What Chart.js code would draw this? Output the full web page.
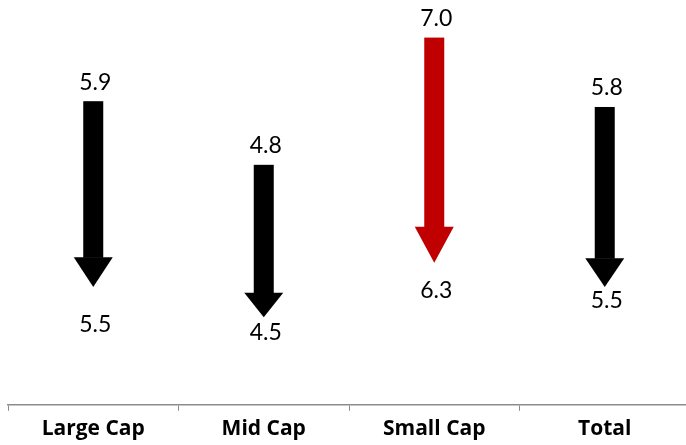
<!DOCTYPE html>
<html>
<head>
<meta charset="utf-8">
<script src="https://cdn.jsdelivr.net/npm/chart.js@4/dist/chart.umd.min.js"></script>
<style>
  html, body { margin: 0; padding: 0; background: #fff; overflow: hidden; }
  #wrap { width: 692px; height: 445px; }
</style>
</head>
<body>
<div id="wrap"><canvas id="c" width="692" height="445"></canvas></div>
<script>
// Segments, before and after values
const categories = ['Large Cap', 'Mid Cap', 'Small Cap', 'Total'];
const startValues = [5.9, 4.8, 7.0, 5.8];
const endValues = [5.5, 4.5, 6.3, 5.5];

// Arrow colours per segment (Small Cap highlighted)
const arrowColors = ['#000000', '#000000', '#C00000', '#000000'];
// Space between an arrow tip and the label printed under it
const endLabelGap = [38, 15, 28, 14];

const arrowPlugin = {
  id: 'arrows',
  afterDatasetsDraw(chart) {
    const ctx = chart.ctx;
    const xs = chart.scales.x;
    const ys = chart.scales.yStart;
    const ye = chart.scales.yEnd;
    const shaftW = 20, headW = 39;
    ctx.save();
    categories.forEach((cat, i) => {
      const cx = xs.getPixelForValue(i);
      const top = ys.getPixelForValue(startValues[i]);
      const tip = ye.getPixelForValue(endValues[i]);
      const len = tip - top;
      const headLen = Math.max(24, 0.16 * len);
      const base = tip - headLen;
      ctx.fillStyle = arrowColors[i];
      ctx.fillRect(cx - shaftW / 2, top, shaftW, base - top + 0.5);
      ctx.beginPath();
      ctx.moveTo(cx - headW / 2, base);
      ctx.lineTo(cx + headW / 2, base);
      ctx.lineTo(cx, tip);
      ctx.closePath();
      ctx.fill();

      ctx.fillStyle = '#000';
      ctx.font = '23px Lato, "Open Sans", sans-serif';
      ctx.textAlign = 'center';
      ctx.textBaseline = 'middle';
      ctx.fillText(startValues[i].toFixed(1), cx + 2, top - 19);
      ctx.fillText(endValues[i].toFixed(1), cx + 2, tip + endLabelGap[i]);
    });
    ctx.restore();
  }
};

new Chart(document.getElementById('c'), {
  type: 'line',
  data: {
    labels: categories,
    datasets: [
      { label: 'Before', data: startValues, yAxisID: 'yStart', showLine: false, pointRadius: 0 },
      { label: 'After', data: endValues, yAxisID: 'yEnd', showLine: false, pointRadius: 0 }
    ]
  },
  options: {
    responsive: false,
    animation: false,
    events: [],
    layout: { padding: { left: 8, right: 2, top: 0, bottom: -3 } },
    plugins: { legend: { display: false }, tooltip: { enabled: false } },
    scales: {
      x: {
        type: 'category',
        offset: true,
        grid: {
          display: true,
          offset: true,
          drawOnChartArea: false,
          drawTicks: true,
          tickLength: 6,
          color: '#8c8c8c',
          lineWidth: 1
        },
        border: { display: true, color: '#8c8c8c', width: 1.5 },
        ticks: {
          color: '#000',
          padding: 6,
          font: { family: '"Open Sans", Lato, sans-serif', size: 21, weight: 'bold' }
        }
      },
      yStart: { type: 'linear', display: false, min: 0.65, max: 7.65 },
      yEnd: { type: 'linear', display: false, min: 1.6, max: 15.0 }
    }
  },
  plugins: [arrowPlugin]
});
</script>
</body>
</html>
